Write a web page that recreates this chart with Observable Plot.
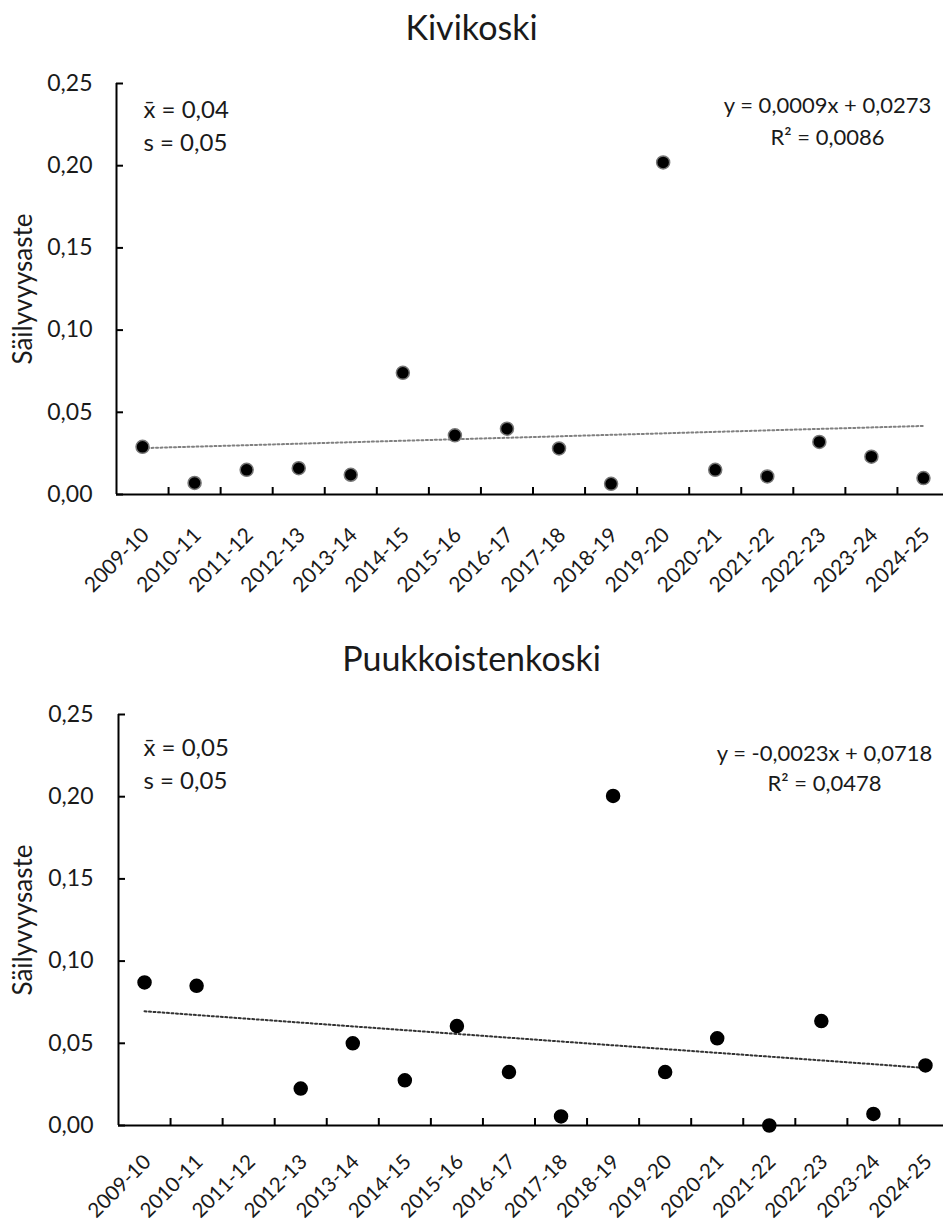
<!DOCTYPE html>
<html>
<head>
<meta charset="utf-8">
<script src="https://cdn.jsdelivr.net/npm/d3@7"></script>
<script src="https://cdn.jsdelivr.net/npm/@observablehq/plot@0.6"></script>
<style>
  body { margin: 0; background: #fff; font-family: Lato, sans-serif; }
  #wrap { position: relative; width: 943px; height: 1222px; overflow: hidden; background: #fff; }
  .title { position: absolute; left: 0; width: 943px; text-align: center; font-size: 34px; line-height: 1; color: #1a1a1a; }
  .chart { position: absolute; left: 0; }
</style>
</head>
<body>
<div id="wrap">
  <div class="title" id="t1"></div>
  <div class="chart" id="c1"></div>
  <div class="title" id="t2"></div>
  <div class="chart" id="c2"></div>
</div>
<script>
// ---- data ----
const seasons = ["2009-10","2010-11","2011-12","2012-13","2013-14","2014-15","2015-16","2016-17",
                 "2017-18","2018-19","2019-20","2020-21","2021-22","2022-23","2023-24","2024-25"];
const yTicks = [0, 0.05, 0.10, 0.15, 0.20, 0.25];
const yLabel = "Säilyvyysaste";

const kivikoskiTitle = "Kivikoski";
const kivikoskiValues = [0.029, 0.007, 0.015, 0.016, 0.012, 0.074, 0.036, 0.040,
                         0.028, 0.0065, 0.202, 0.015, 0.011, 0.032, 0.023, 0.010];
const kivikoskiSlope = 0.0009, kivikoskiIntercept = 0.0273;
const kivikoskiStats = ["x̄ = 0,04", "s = 0,05"];
const kivikoskiEq = ["y = 0,0009x + 0,0273", "R² = 0,0086"];

const puukkoTitle = "Puukkoistenkoski";
const puukkoValues = [0.087, 0.085, null, 0.0225, 0.050, 0.0275, 0.0605, 0.0325,
                      0.0055, 0.2005, 0.0325, 0.053, 0.0, 0.0635, 0.007, 0.0365];
const puukkoSlope = -0.0023, puukkoIntercept = 0.0718;
const puukkoStats = ["x̄ = 0,05", "s = 0,05"];
const puukkoEq = ["y = -0,0023x + 0,0718", "R² = 0,0478"];

const fmt = d => d.toFixed(2).replace(".", ",");

function makeChart(o) {
  const data = o.values.map((v, i) => ({i: i + 1, v})).filter(d => d.v != null);
  const n = seasons.length;
  const trend = [1, n].map(x => ({x, y: o.slope * x + o.intercept}));
  const plotW = 943 - o.marginLeft - o.marginRight;
  const plotH = o.height - o.marginTop - o.marginBottom;
  const xTickPos = d3.range(1, n).map(i => i + 0.5);
  return Plot.plot({
    width: 943,
    height: o.height,
    marginLeft: o.marginLeft,
    marginRight: o.marginRight,
    marginTop: o.marginTop,
    marginBottom: o.marginBottom,
    style: {fontFamily: "Lato, sans-serif", color: "#1a1a1a", background: "white"},
    x: {domain: [0.5, n + 0.5]},
    y: {domain: [0, 0.25]},
    marks: [
      Plot.axisY(yTicks, {tickSize: 0, tickPadding: o.yPad, tickFormat: fmt, fontSize: 23, label: null, fill: "#1a1a1a"}),
      Plot.axisX(d3.range(1, n + 1), {tickSize: 0, tickPadding: o.xPad, tickRotate: -45, dx: o.xDx,
        tickFormat: i => seasons[i - 1], fontSize: o.xFont, label: null, fill: "#1a1a1a"}),
      Plot.text([yLabel], {frameAnchor: "left", textAnchor: "middle", rotate: -90, dx: -o.marginLeft + 23, fontSize: 26, fill: "#1a1a1a"}),
      Plot.ruleY(yTicks, {y: d => d, insetRight: plotW - 7, stroke: "black", strokeWidth: 2}),
      Plot.ruleX(xTickPos, {x: d => d, insetTop: plotH - 7, stroke: "black", strokeWidth: 2}),
      Plot.ruleX([0.5], {stroke: "black", strokeWidth: 2}),
      Plot.ruleY([0], {stroke: "black", strokeWidth: 2}),
      Plot.line(trend, {x: "x", y: "y", stroke: o.trendColor, strokeWidth: 2, strokeDasharray: "2,2.5"}),
      Plot.dot(data, {x: "i", y: "v", r: 6.5, fill: "black", stroke: o.dotStroke, strokeWidth: 1.5}),
      Plot.text([o.stats[0]], {frameAnchor: "top-left", textAnchor: "start", lineAnchor: "bottom", dx: o.statDx, dy: o.statDy[0], fontSize: 24, fill: "#1a1a1a"}),
      Plot.text([o.stats[1]], {frameAnchor: "top-left", textAnchor: "start", lineAnchor: "bottom", dx: o.statDx, dy: o.statDy[1], fontSize: 24, fill: "#1a1a1a"}),
      Plot.text([o.eq[0]], {frameAnchor: "top-left", textAnchor: "middle", lineAnchor: "bottom", dx: o.eqDx, dy: o.eqDy[0], fontSize: 22, fill: "#1a1a1a"}),
      Plot.text([o.eq[1]], {frameAnchor: "top-left", textAnchor: "middle", lineAnchor: "bottom", dx: o.eqDx, dy: o.eqDy[1], fontSize: 22, fill: "#1a1a1a"})
    ]
  });
}

document.getElementById("t1").textContent = kivikoskiTitle;
document.getElementById("t1").style.top = "10px";
document.getElementById("t2").textContent = puukkoTitle;
document.getElementById("t2").style.top = "641px";

const c1 = document.getElementById("c1");
c1.style.top = "55px";
c1.appendChild(makeChart({
  values: kivikoskiValues, slope: kivikoskiSlope, intercept: kivikoskiIntercept,
  stats: kivikoskiStats, eq: kivikoskiEq,
  height: 545, marginTop: 28, marginBottom: 106, marginLeft: 116, marginRight: -6,
  yPad: 24, xPad: 37, xDx: 3, xFont: 21,
  statDx: 27, statDy: [34, 67], eqDx: 711, eqDy: [29, 61],
  trendColor: "#808080", dotStroke: "#777"
}));

const c2 = document.getElementById("c2");
c2.style.top = "685px";
c2.appendChild(makeChart({
  values: puukkoValues, slope: puukkoSlope, intercept: puukkoIntercept,
  stats: puukkoStats, eq: puukkoEq,
  height: 537, marginTop: 29, marginBottom: 97, marginLeft: 118, marginRight: -8,
  yPad: 25, xPad: 33, xDx: 3, xFont: 20.5,
  statDx: 25, statDy: [41, 74], eqDx: 706, eqDy: [46, 76],
  trendColor: "#333", dotStroke: "black"
}));
</script>
</body>
</html>
